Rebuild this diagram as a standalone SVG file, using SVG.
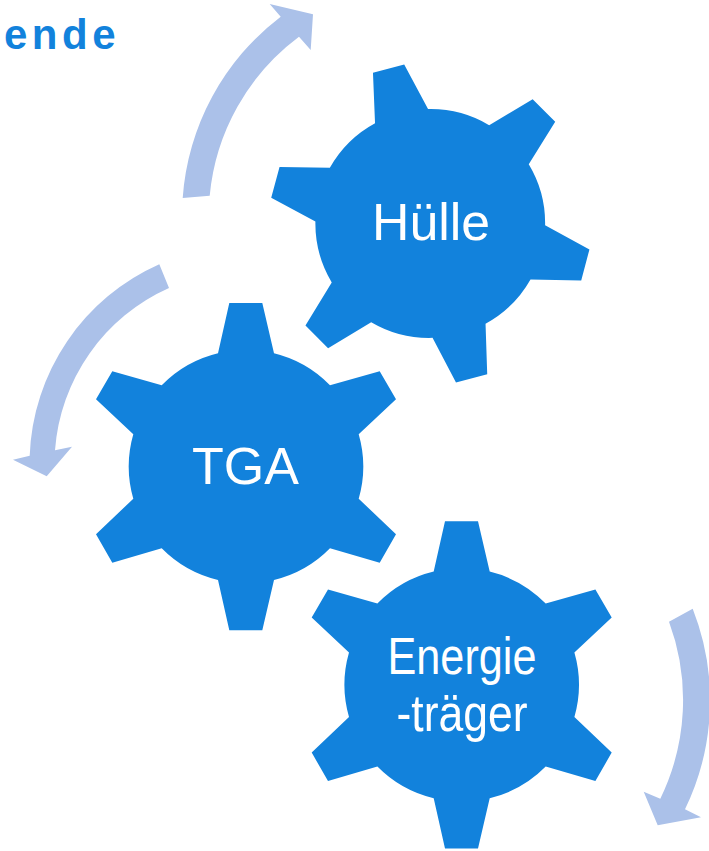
<svg xmlns="http://www.w3.org/2000/svg" width="709" height="851" viewBox="0 0 709 851">
<style>
.gear{fill:#1282DC}
.arrow{fill:#ABC1E9}
.label{font-family:"Liberation Sans",Arial,sans-serif;font-size:52px;fill:#fff;text-anchor:middle}
.title{font-family:"Liberation Sans",Arial,sans-serif;font-size:42px;font-weight:bold;fill:#1282DC;letter-spacing:4.5px}
</style>
<defs>
<path id="gearShape" d="M-16.7-163.7H16.3L28-113.4A116.7 116.7 0 0 1 84-81.4L133.7-95.4L150-67.4L112.7-32.4A116.7 116.7 0 0 1 112.7 32L150 67.6L133.7 96L84 81.6A116.7 116.7 0 0 1 28 113.3L16.3 163.6H-16.7L-28 113.3A116.7 116.7 0 0 1-84.300 81.600L-133.700 96L-150 67.600L-112.700 32A116.700 116.700 0 0 1-112.700-32.400L-150-67.400L-133.700-95.400L-84.300-81.400A116.700 116.700 0 0 1-28-113.400Z"/>
</defs>
<text class="title" x="4" y="49">ende</text>
<g id="connectors">
<path class="arrow" d="M182.700 198A250 250 0 0 1 280.700 16.700L269.700 4L313 14.300L310.700 50L299 36.700A224 224 0 0 0 209.700 195.700Z"/>
<path class="arrow" d="M159.300 264.300A218 218 0 0 0 29.700 455.700L13 459.700L46.700 476.300L72 446.700L55 450.300A193 193 0 0 1 169 288Z"/>
<path class="arrow" d="M692.700 608.700A250 250 0 0 1 685 809.300L701 817.300L657.700 825.300L643.700 791.700L660.300 798.700A225 225 0 0 0 669 621.700Z"/>
</g>
<g id="node-huelle">
<use href="#gearShape" class="gear" transform="translate(430.300 223.500) rotate(-15) scale(.98)"/>
<text class="label" x="431" y="240" textLength="118" lengthAdjust="spacingAndGlyphs">Hülle</text>
</g>
<g id="node-tga">
<use href="#gearShape" class="gear" transform="translate(246 466.700)"/>
<text class="label" x="245.500" y="483.500">TGA</text>
</g>
<g id="node-energietraeger">
<use href="#gearShape" class="gear" transform="translate(461.700 685)"/>
<text class="label" x="462" y="673.500" textLength="149" lengthAdjust="spacingAndGlyphs">Energie</text>
<text class="label" x="462" y="730.500" textLength="131" lengthAdjust="spacingAndGlyphs">-träger</text>
</g>
</svg>
